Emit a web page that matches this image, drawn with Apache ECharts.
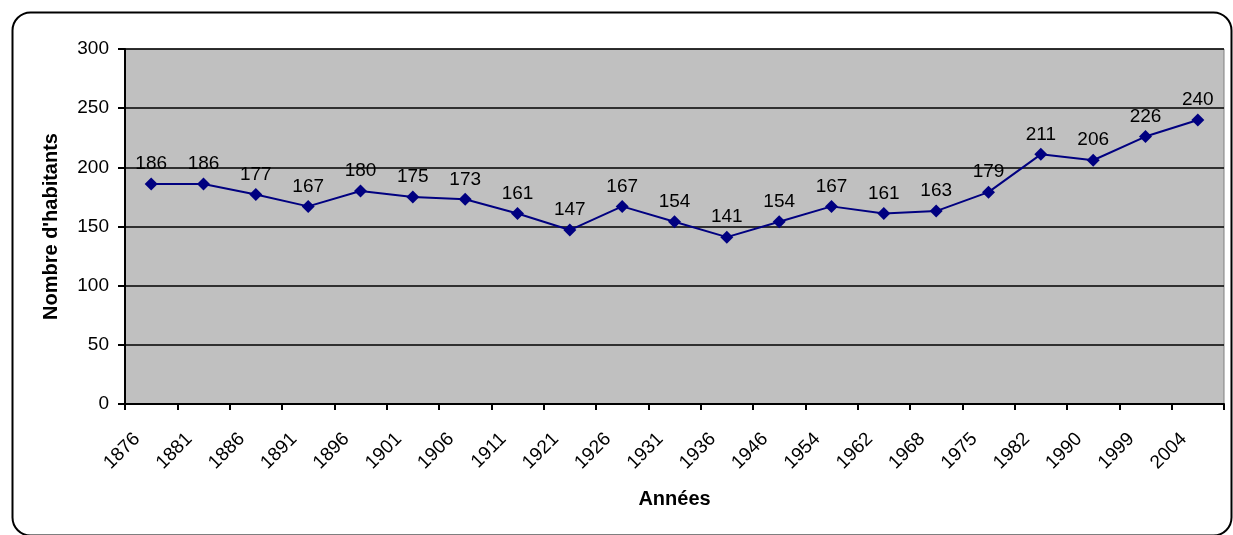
<!DOCTYPE html>
<html>
<head>
<meta charset="utf-8">
<script src="https://cdn.jsdelivr.net/npm/echarts@6/dist/echarts.min.js"></script>
<style>html,body{margin:0;padding:0;background:#fff;}#c{width:1233px;height:535px;}</style>
</head>
<body>
<div id="c"></div>
<script>
const years = ['1876','1881','1886','1891','1896','1901','1906','1911','1921','1926','1931','1936','1946','1954','1962','1968','1975','1982','1990','1999','2004'];
const habitants = [186,186,177,167,180,175,173,161,147,167,154,141,154,167,161,163,179,211,206,226,240];
const yTicks = [0,50,100,150,200,250,300];

const chart = echarts.init(document.getElementById('c'));
const F = 'Liberation Sans, Arial, sans-serif';
chart.setOption({
  animation: false,
  backgroundColor: '#fff',
  grid: {left:125, right:9, top:49, bottom:131, show:true, backgroundColor:'#C0C0C0', borderColor:'#808080', borderWidth:1},
  graphic: [{
    type:'rect', left:10, top:10, z:-1,
    shape:{width:1219, height:523, r:18},
    style:{fill:'none', stroke:'#000', lineWidth:2}
  }],
  xAxis: {
    type:'category', data: years, boundaryGap:true,
    name:'Années', nameLocation:'middle', nameGap:85,
    nameTextStyle:{fontFamily:F, fontSize:20, fontWeight:'bold', color:'#000'},
    axisLine:{show:true, lineStyle:{color:'#000', width:2}},
    axisTick:{show:true, alignWithLabel:false, length:6, lineStyle:{color:'#000', width:2}},
    axisLabel:{rotate:45, interval:0, margin:18, padding:[0,20,0,0], fontFamily:F, fontSize:19, color:'#000'},
    splitLine:{show:false}
  },
  yAxis: {
    type:'value', min:yTicks[0], max:yTicks[yTicks.length-1], interval:50,
    name:"Nombre d'habitants", nameLocation:'middle', nameGap:64,
    nameTextStyle:{fontFamily:F, fontSize:20, fontWeight:'bold', color:'#000'},
    axisLine:{show:true, lineStyle:{color:'#000', width:2}},
    axisTick:{show:true, length:7, lineStyle:{color:'#000', width:2}},
    axisLabel:{margin:16, fontFamily:F, fontSize:19, color:'#000'},
    splitLine:{show:true, lineStyle:{color:'#000', width:1.5}}
  },
  series: [{
    type:'line', data: habitants,
    symbol:'diamond', symbolSize:13,
    lineStyle:{color:'#000080', width:2},
    itemStyle:{color:'#000080'},
    label:{show:true, position:'top', distance:4, fontFamily:F, fontSize:19, color:'#000'}
  }]
});
</script>
</body>
</html>
